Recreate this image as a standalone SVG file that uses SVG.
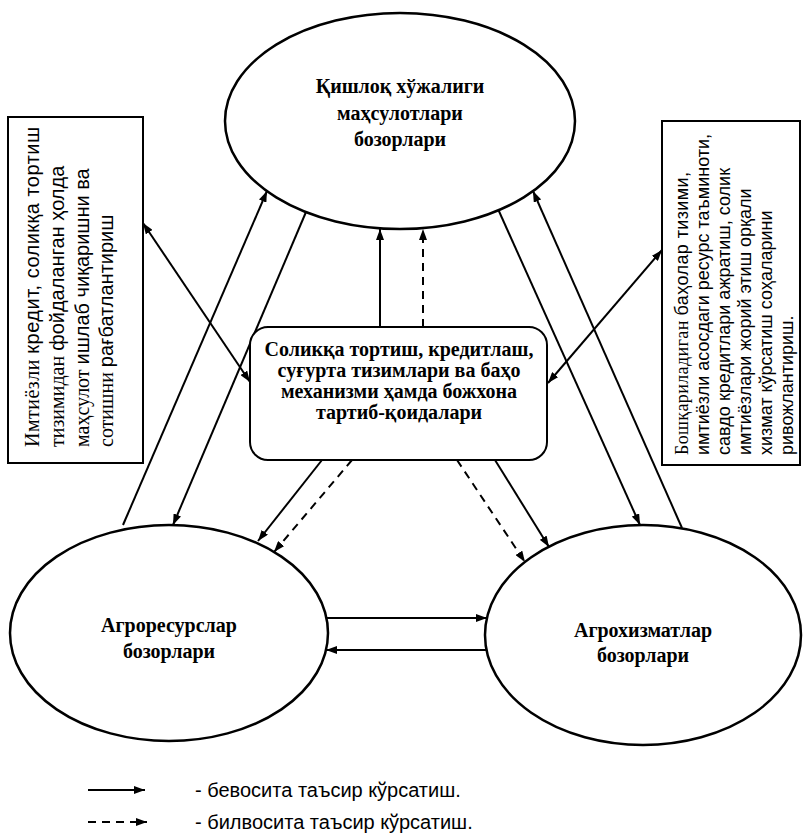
<svg xmlns="http://www.w3.org/2000/svg" width="803" height="839" viewBox="0 0 803 839">
<defs>
<marker id="ah" markerWidth="11" markerHeight="8" refX="11" refY="4" orient="auto-start-reverse" markerUnits="userSpaceOnUse">
<path d="M0,0 L11,4 L0,8 z" fill="#000"/>
</marker>
<style>
.node{fill:#fff;stroke:#000;stroke-width:2.5}
.box{fill:#fff;stroke:#000;stroke-width:2}
.c{fill:none;stroke:#000;stroke-width:2;marker-end:url(#ah)}
.d{stroke-dasharray:8 6}
.two{marker-start:url(#ah)}
.bt{font-family:"Liberation Serif","Times New Roman",serif;font-weight:bold;font-size:20px;text-anchor:middle;fill:#000}
.sv{font-family:"Liberation Serif","Times New Roman",serif}
.ss{font-family:"Liberation Sans",Arial,sans-serif}
.lb{font-size:20px;fill:#000}
.rb{font-size:18px;fill:#000}
.lg{font-family:"Liberation Sans",Arial,sans-serif;font-size:20px;fill:#000}
</style>
</defs>
<rect width="803" height="839" fill="#fff"/>

<g id="connectors">
<path class="c" d="M380,327 L380,229"/>
<path class="c d" d="M423,327 L423,229"/>
<path class="c" d="M123,525 L267,191"/>
<path class="c" d="M306,212 L173,525"/>
<path class="c" d="M498,209 L640,525"/>
<path class="c" d="M682,528 L533,191"/>
<path class="c two" d="M143,223 L250,382"/>
<path class="c two" d="M662,250 L548,383"/>
<path class="c" d="M322,460 L258,541"/>
<path class="c d" d="M352,460 L274,552"/>
<path class="c d" d="M457,460 L525,562"/>
<path class="c" d="M495,460 L549,547"/>
<path class="c" d="M326,618 L487,618"/>
<path class="c" d="M486,650 L326,650"/>
</g>

<g id="node-top">
<ellipse class="node" cx="400" cy="121" rx="175" ry="108"/>
<text class="bt" x="400" y="93">Қишлоқ хўжалиги</text>
<text class="bt" x="400" y="120">маҳсулотлари</text>
<text class="bt" x="400" y="146">бозорлари</text>
</g>

<g id="node-center">
<rect class="box" x="250" y="327" width="297" height="133" rx="18" ry="18"/>
<text class="bt" x="399" y="356">Соликқа тортиш, кредитлаш,</text>
<text class="bt" x="399" y="377">суғурта тизимлари ва баҳо</text>
<text class="bt" x="399" y="398">механизми ҳамда божхона</text>
<text class="bt" x="399" y="419">тартиб-қоидалари</text>
</g>

<g id="node-left">
<ellipse class="node" cx="169" cy="633" rx="159" ry="108"/>
<text class="bt" x="169" y="632">Агроресурслар</text>
<text class="bt" x="169" y="658">бозорлари</text>
</g>

<g id="node-right">
<ellipse class="node" cx="643" cy="635" rx="158" ry="110"/>
<text class="bt" x="643" y="637">Агрохизматлар</text>
<text class="bt" x="643" y="662">бозорлари</text>
</g>

<g id="box-left">
<rect class="box" x="8" y="117" width="135" height="346"/>
<text class="lb" transform="translate(39,447) rotate(-90)" textLength="320" lengthAdjust="spacing"><tspan class="sv">Имтиёзли </tspan><tspan class="ss">кредит, соликқа тортиш</tspan></text>
<text class="lb" transform="translate(64,447) rotate(-90)"><tspan class="sv">тизимидан </tspan><tspan class="ss">фойдаланган ҳолда</tspan></text>
<text class="lb" transform="translate(89,447) rotate(-90)"><tspan class="sv">маҳсулот </tspan><tspan class="ss">ишлаб чиқаришни ва</tspan></text>
<text class="lb" transform="translate(113,447) rotate(-90)"><tspan class="sv">сотишни </tspan><tspan class="ss">рағбатлантириш</tspan></text>
</g>

<g id="box-right">
<rect class="box" x="662" y="121" width="138" height="344"/>
<text class="rb" transform="translate(688,455) rotate(-90)" textLength="283" lengthAdjust="spacing"><tspan class="sv">Бошқариладиган </tspan><tspan class="ss">баҳолар тизими,</tspan></text>
<text class="rb ss" transform="translate(709,455) rotate(-90)">имтиёзли асосдаги ресурс таъминоти,</text>
<text class="rb ss" transform="translate(730,455) rotate(-90)">савдо кредитлари ажратиш, солик</text>
<text class="rb ss" transform="translate(751,455) rotate(-90)">имтиёзлари жорий этиш орқали</text>
<text class="rb ss" transform="translate(772,455) rotate(-90)">хизмат кўрсатиш соҳаларини</text>
<text class="rb ss" transform="translate(793,455) rotate(-90)">ривожлантириш.</text>
</g>

<g id="legend">
<path class="c" d="M88,790 L145,790"/>
<path class="c d" d="M88,822 L147,822"/>
<text class="lg" x="195" y="797">- бевосита таъсир кўрсатиш.</text>
<text class="lg" x="195" y="829">- билвосита таъсир кўрсатиш.</text>
</g>
</svg>
